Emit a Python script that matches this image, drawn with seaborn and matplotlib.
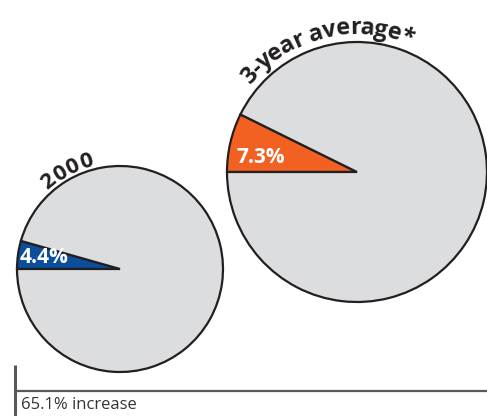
import numpy as np
import matplotlib
matplotlib.use("Agg")
import matplotlib.pyplot as plt
import seaborn as sns

# data
periods = ['2000', '3-year average*']
shares = [4.4, 7.3]          # percent of total
share_labels = ['4.4%', '7.3%']
increase_label = '65.1% increase'

# style / layout (pixel-like coords, origin lower-left)
W, H = 487, 416
pie_centers = [(120, 147), (357, 244)]
pie_radii = [103, 130]
wedge_colors = ['#0b4f9c', '#f26122']
rest_color = '#dcdddf'
edge = '#231f20'

sns.set_theme(style='white')
plt.rcParams['font.family'] = ['Open Sans', 'DejaVu Sans']

fig = plt.figure(figsize=(W / 100, H / 100), dpi=100)
ax = fig.add_axes([0, 0, 1, 1])


def arc_text(ax, text, cx, cy, r, mid_deg, tracking=0.0, **kw):
    renderer = fig.canvas.get_renderer()

    def width(s):
        t = ax.text(0, 0, s + '|', **kw)
        w = t.get_window_extent(renderer).width
        t.remove()
        t = ax.text(0, 0, '|', **kw)
        w -= t.get_window_extent(renderer).width
        t.remove()
        return w

    offsets = []
    for i in range(len(text)):
        left = width(text[:i]) if i else 0.0
        right = width(text[:i + 1])
        offsets.append((left + right) / 2 + tracking * i)
    total = width(text) + tracking * (len(text) - 1)
    start = np.radians(mid_deg) + total / 2 / r
    for ch, s in zip(text, offsets):
        th = start - s / r
        ax.text(cx + r * np.cos(th), cy + r * np.sin(th), ch,
                rotation=np.degrees(th) - 90, rotation_mode='anchor',
                ha='center', va='baseline', **kw)


for i, (name, val) in enumerate(zip(periods, shares)):
    cx, cy = pie_centers[i]
    r = pie_radii[i]
    ax.pie([val, 100 - val], center=(cx, cy), radius=r, startangle=180,
           counterclock=False, colors=[wedge_colors[i], rest_color],
           wedgeprops=dict(edgecolor=edge, linewidth=1.6))
    ax.text(cx - 0.74 * r, cy + 0.108 * r, share_labels[i], color='white',
            fontsize=15, fontweight='bold', ha='center', va='center')

ax.set_xlim(0, W)
ax.set_ylim(0, H)
ax.set_aspect('equal')
ax.axis('off')

arc_text(ax, periods[0], pie_centers[0][0], pie_centers[0][1], 107, 118.5,
         tracking=1.0, fontsize=16, fontweight='bold', color='#231f20')
arc_text(ax, periods[1], pie_centers[1][0], pie_centers[1][1], 138, 104,
         tracking=-0.6, fontsize=17, fontweight='bold', color='#231f20')

# baseline bracket
line_col = '#58595b'
ax.plot([15, 15], [0, 51], color=line_col, lw=2.2, solid_capstyle='butt')
ax.plot([15, W], [25, 25], color=line_col, lw=1.6, solid_capstyle='butt')
ax.text(21, 11, increase_label, fontsize=12, color='#333333', ha='left', va='center')

fig.savefig('out.png', dpi=100)
